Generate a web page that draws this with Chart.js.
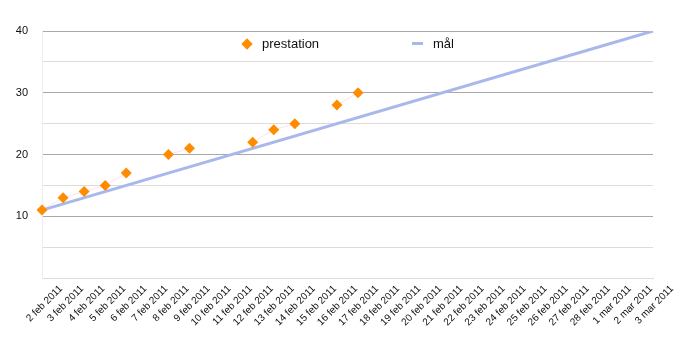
<!DOCTYPE html>
<html>
<head>
<meta charset="utf-8">
<script src="https://cdn.jsdelivr.net/npm/chart.js@4"></script>
<style>
  body { margin: 0; background: #fff; font-family: "Liberation Sans", Arial, sans-serif; }
  #wrap { position: relative; width: 690px; height: 350px; }
  .legend { position: absolute; top: 36px; font-size: 13px; color: #111; display: flex; align-items: center; }
  .diamond { width: 8px; height: 8px; background: #ff8c00; transform: rotate(45deg); margin-right: 11px; }
  .dash { width: 11px; height: 3px; background: #a8b8ea; margin-right: 10px; }
</style>
</head>
<body>
<div id="wrap">
  <canvas id="chart" width="690" height="350"></canvas>
  <div class="legend" style="left:243px"><span class="diamond"></span>prestation</div>
  <div class="legend" style="left:412px"><span class="dash"></span>mål</div>
</div>
<script>
const days = [
  '2 feb 2011', '3 feb 2011', '4 feb 2011', '5 feb 2011', '6 feb 2011', '7 feb 2011',
  '8 feb 2011', '9 feb 2011', '10 feb 2011', '11 feb 2011', '12 feb 2011', '13 feb 2011',
  '14 feb 2011', '15 feb 2011', '16 feb 2011', '17 feb 2011', '18 feb 2011', '19 feb 2011',
  '20 feb 2011', '21 feb 2011', '22 feb 2011', '23 feb 2011', '24 feb 2011', '25 feb 2011',
  '26 feb 2011', '27 feb 2011', '28 feb 2011', '1 mar 2011', '2 mar 2011', '3 mar 2011'
];
// null = no measurement that day
const prestation = [11, 13, 14, 15, 17, null, 20, 21, null, null, 22, 24, 25, null, 28, 30];
const malDays = ['2 feb 2011', '3 mar 2011'];
const malValues = [11, 40];

const ctx = document.getElementById('chart').getContext('2d');
new Chart(ctx, {
  type: 'line',
  data: {
    labels: days,
    datasets: [
      {
        label: 'prestation',
        data: prestation,
        borderColor: 'rgba(255, 170, 190, 0.35)',
        borderWidth: 1,
        pointStyle: 'rectRot',
        pointRadius: 5.5,
        pointBackgroundColor: '#ff8c00',
        pointBorderColor: '#ff8c00',
        pointBorderWidth: 0,
        spanGaps: false,
        order: 1
      },
      {
        label: 'mål',
        data: malDays.map((d, i) => ({ x: d, y: malValues[i] })),
        borderColor: '#a8b8ea',
        borderWidth: 3,
        pointRadius: 0,
        order: 2
      }
    ]
  },
  options: {
    responsive: false,
    animation: false,
    layout: { padding: { top: 31, right: 37, left: 0, bottom: 0 } },
    plugins: { legend: { display: false }, tooltip: { enabled: false } },
    scales: {
      x: {
        offset: false,
        grid: {
          drawOnChartArea: false,
          drawTicks: false
        },
        border: { color: '#dcdcdc' },
        ticks: {
          autoSkip: false,
          maxRotation: 45,
          minRotation: 45,
          color: '#111',
          font: { family: 'Liberation Sans', size: 10 },
          padding: 5,
          labelOffset: 19
        },
        afterFit: (s) => { s.height = 72; }
      },
      y: {
        min: 0,
        max: 40,
        ticks: {
          stepSize: 5,
          color: '#111',
          font: { family: 'Liberation Sans', size: 11 },
          padding: 14,
          callback: (v) => (v > 0 && v % 10 === 0 ? v : '')
        },
        grid: {
          drawTicks: false,
          color: (c) => (c.tick.value > 0 && c.tick.value % 10 === 0 ? '#a9a9a9' : '#dcdcdc')
        },
        border: { color: '#eeeeee' },
        afterFit: (s) => { s.width = 42; }
      }
    }
  }
});
</script>
</body>
</html>
